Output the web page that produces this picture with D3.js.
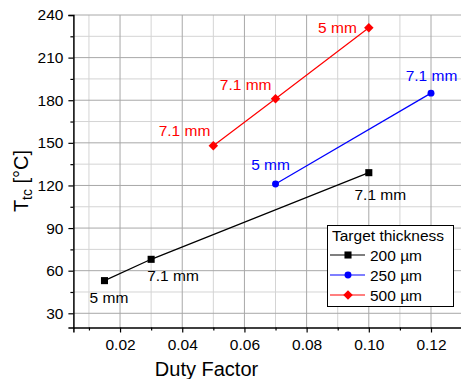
<!DOCTYPE html>
<html><head><meta charset="utf-8">
<script src="https://cdn.jsdelivr.net/npm/d3@7"></script>
<style>body{margin:0;background:#fff}svg{display:block;font-family:"Liberation Sans",Arial,sans-serif}</style>
</head><body><svg id="c" width="461" height="379"></svg>
<script>
const seriesNames = ["200 µm", "250 µm", "500 µm"];
const x200 = [0.015, 0.03, 0.10];
const y200 = [53, 68, 129];
const lab200 = ["5 mm", "7.1 mm", "7.1 mm"];
const x250 = [0.07, 0.12];
const y250 = [121, 185];
const lab250 = ["5 mm", "7.1 mm"];
const x500 = [0.05, 0.07, 0.10];
const y500 = [148, 181, 231];
const lab500 = ["7.1 mm", "7.1 mm", "5 mm"];
const xTicks = [0.02, 0.04, 0.06, 0.08, 0.10, 0.12];
const xMinor = [0.01, 0.03, 0.05, 0.07, 0.09, 0.11, 0.13];
const yTicks = [30, 60, 90, 120, 150, 180, 210, 240];
const yMinor = [45, 75, 105, 135, 165, 195, 225];
const xTitle = "Duty Factor";
const legendTitle = "Target thickness";

const svg = d3.select("#c");
const x = d3.scaleLinear().domain([0.005, 0.13]).range([73.4, 462.1]);
const y = d3.scaleLinear().domain([20, 240]).range([327.5, 15]);
const FS = 15.5;

// grid
const g = svg.append("g");
g.selectAll(".vm").data(xMinor).join("line").attr("x1", d => x(d)).attr("x2", d => x(d)).attr("y1", y(20)).attr("y2", y(240)).attr("stroke", "#d4d4d4").attr("stroke-width", 1);
g.selectAll(".hm").data(yMinor).join("line").attr("y1", d => y(d)).attr("y2", d => y(d)).attr("x1", x(0.005)).attr("x2", 461).attr("stroke", "#d4d4d4").attr("stroke-width", 1);
g.selectAll(".vM").data(xTicks).join("line").attr("x1", d => x(d)).attr("x2", d => x(d)).attr("y1", y(20)).attr("y2", y(240)).attr("stroke", "#a8a8a8").attr("stroke-width", 1);
g.selectAll(".hM").data(yTicks).join("line").attr("y1", d => y(d)).attr("y2", d => y(d)).attr("x1", x(0.005)).attr("x2", 461).attr("stroke", "#a8a8a8").attr("stroke-width", 1);

// axes
const xAxis = svg.append("g").attr("transform", `translate(0,${y(20)})`)
  .call(d3.axisBottom(x).tickValues(xTicks).tickFormat(d3.format(".2f")).tickSize(5).tickPadding(6));
const xAxisMinor = svg.append("g").attr("transform", `translate(0,${y(20)})`)
  .call(d3.axisBottom(x).tickValues(xMinor).tickFormat("").tickSize(3));
const yAxis = svg.append("g").attr("transform", `translate(${x(0.005)},0)`)
  .call(d3.axisLeft(y).tickValues(yTicks).tickSize(5).tickPadding(5));
const yAxisMinor = svg.append("g").attr("transform", `translate(${x(0.005)},0)`)
  .call(d3.axisLeft(y).tickValues(yMinor).tickFormat("").tickSize(3));
[xAxis, xAxisMinor, yAxis, yAxisMinor].forEach(a => {
  a.select(".domain").attr("stroke", "#000").attr("stroke-width", 1.5);
  a.selectAll(".tick line").attr("stroke", "#000").attr("stroke-width", 1.2);
  a.selectAll("text").attr("font-size", FS).attr("font-family", "Liberation Sans, Arial").attr("fill", "#000");
});
xAxisMinor.select(".domain").remove();
yAxisMinor.select(".domain").remove();

// titles
svg.append("text").attr("x", 206.5).attr("y", 376).attr("text-anchor", "middle").attr("font-size", 20).text(xTitle);
const yt = svg.append("text").attr("transform", "translate(28,181) rotate(-90)").attr("text-anchor", "middle").attr("font-size", 20);
yt.append("tspan").text("T");
yt.append("tspan").attr("font-size", 14).attr("dy", 4).text("tc");
yt.append("tspan").attr("dy", -4).text(" [°C]");

const diamond = { draw(ctx, size) { const r = Math.sqrt(size / 2); ctx.moveTo(0, -r); ctx.lineTo(r, 0); ctx.lineTo(0, r); ctx.lineTo(-r, 0); ctx.closePath(); } };

const series = [
  {name: seriesNames[0], xs: x200, ys: y200, labs: lab200, color: "#000000", shape: d3.symbolSquare, size: 50,
   off: [[4.5, 22, "middle"], [-4, 22, "start"], [11.5, 27, "middle"]]},
  {name: seriesNames[1], xs: x250, ys: y250, labs: lab250, color: "#0000ff", shape: d3.symbolCircle, size: 38,
   off: [[-5, -14, "middle"], [0.5, -12, "middle"]]},
  {name: seriesNames[2], xs: x500, ys: y500, labs: lab500, color: "#ff0000", shape: diamond, size: 45,
   off: [[-3, -10, "end"], [-4, -9, "end"], [-12, 5, "end"]]}
];
const line = d3.line().x(d => x(d[0])).y(d => y(d[1]));
series.forEach(s => {
  const pts = s.xs.map((v, i) => [v, s.ys[i]]);
  svg.append("path").attr("d", line(pts)).attr("fill", "none").attr("stroke", s.color).attr("stroke-width", 1.2);
  svg.selectAll(null).data(pts).join("path")
    .attr("transform", d => `translate(${x(d[0])},${y(d[1])})`)
    .attr("d", d3.symbol().type(s.shape).size(s.size)).attr("fill", s.color);
  svg.selectAll(null).data(pts).join("text")
    .attr("x", (d, i) => x(d[0]) + s.off[i][0]).attr("y", (d, i) => y(d[1]) + s.off[i][1])
    .attr("text-anchor", (d, i) => s.off[i][2]).attr("font-size", FS).attr("fill", s.color)
    .text((d, i) => s.labs[i]);
});

// legend
const lg = svg.append("g");
lg.append("rect").attr("x", 327.5).attr("y", 225.5).attr("width", 126).attr("height", 81).attr("fill", "#fff").attr("stroke", "#000").attr("stroke-width", 1);
lg.append("text").attr("x", 332).attr("y", 241).attr("font-size", FS).text(legendTitle);
series.forEach((s, i) => {
  const yy = 255 + i * 20;
  lg.append("line").attr("x1", 330).attr("x2", 365).attr("y1", yy).attr("y2", yy).attr("stroke", s.color).attr("stroke-width", 1.2);
  lg.append("path").attr("transform", `translate(348,${yy})`).attr("d", d3.symbol().type(s.shape).size(s.size)).attr("fill", s.color);
  lg.append("text").attr("x", 370).attr("y", yy + 5.5).attr("font-size", FS).text(s.name);
});
</script></body></html>
